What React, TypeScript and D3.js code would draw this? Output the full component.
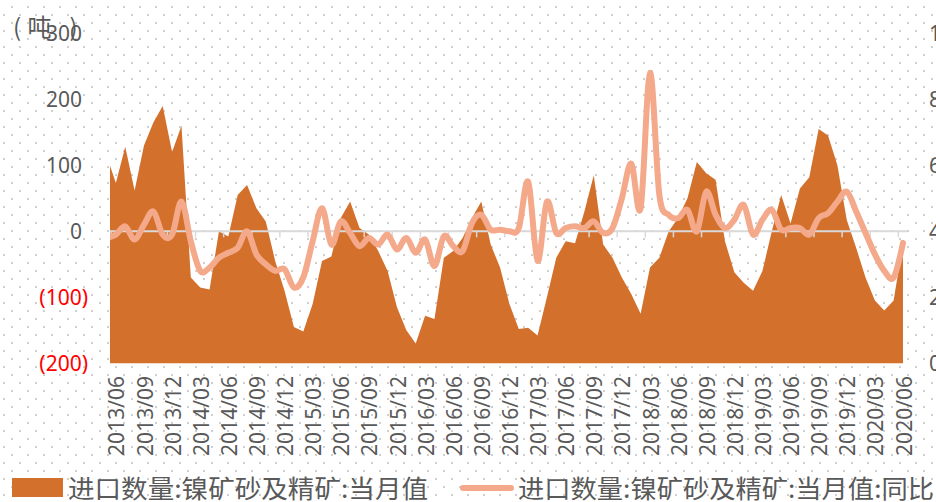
import React from 'react';
import * as d3 from 'd3';

// Categories: monthly, 2013/05 .. 2020/06
const months: string[] = d3
  .timeMonth.range(new Date(2013, 4, 1), new Date(2020, 6, 1))
  .map(d3.timeFormat('%Y/%m'));

// 进口数量:镍矿砂及精矿:当月值 (left axis)
const importVolume: number[] = [
  115, 73, 128, 62, 130, 165, 190, 120, 160,
  -70, -85, -88,
  0, -8, 55, 70, 35, 15, -45, -90,
  -145, -152, -110, -45, -38, 20, 45, 5,
  -5, -30, -60, -115, -150, -170, -128, -133,
  -40, -30, -10, 20, 45, -20, -55, -110,
  -148, -146, -158, -100, -40, -15, -18, 30,
  85, -20, -40, -70, -95, -125, -55, -40,
  0, 20, 50, 105, 88, 78, -15, -62,
  -78, -90, -60, 0, 55, 12, 65, 82,
  155, 145, 100, 17, -25, -70, -105, -120, -105, -18,
];

// 进口数量:镍矿砂及精矿:当月值:同比 (right axis)
const importYoY: number[] = [
  38, 39, 41.5, 37.5, 42, 46, 39, 39, 49,
  37, 28, 29,
  32, 33.5, 35, 40, 33, 30, 28, 28.5,
  23, 26, 37, 47, 36, 43, 39.5, 35.5,
  38, 36, 39, 34.5, 38, 33.5, 37.5, 29.5,
  38.5, 35.5, 34, 42.5, 45, 40.5, 40.5, 40,
  41, 55, 31, 49, 39.5, 41, 41.5, 41,
  43, 39.5, 41, 50, 60.5, 47, 88, 51,
  45, 44, 46.5, 40, 52, 45, 41, 43.5,
  48, 39, 43.5, 46.5, 40.5, 41, 41, 39,
  44, 45.5, 49, 52, 46, 39.5, 33, 28, 26, 36.5,
];

const xTickLabels: string[] = [
  '2013/06', '2013/09', '2013/12', '2014/03', '2014/06', '2014/09', '2014/12',
  '2015/03', '2015/06', '2015/09', '2015/12', '2016/03', '2016/06', '2016/09',
  '2016/12', '2017/03', '2017/06', '2017/09', '2017/12', '2018/03', '2018/06',
  '2018/09', '2018/12', '2019/03', '2019/06', '2019/09', '2019/12', '2020/03', '2020/06',
];
const leftTicks: number[] = [300, 200, 100, 0, -100, -200];
const rightTicks: number[] = [100, 80, 60, 40, 20, 0];

const legendLabels = ['进口数量:镍矿砂及精矿:当月值', '进口数量:镍矿砂及精矿:当月值:同比'];

const AREA_COLOR = '#D3702C';
const LINE_COLOR = '#F3A98A';
const TEXT_COLOR = '#595959';
const NUM_FONT = '"Noto Sans", "DejaVu Sans", sans-serif';
const CJK_FONT = '"Noto Sans CJK SC", "Noto Sans", sans-serif';

export default function App() {
  const W = 936;
  const H = 502;
  const x = d3.scalePoint<string>().domain(months).range([106.5, 903]);
  const step = x.step();
  const yL = d3.scaleLinear().domain([-200, 300]).range([363.3, 33.3]);
  const yR = d3.scaleLinear().domain([0, 100]).range([363.3, 33.3]);

  const areaGen = d3
    .area<number>()
    .x((_, i) => x(months[i]) as number)
    .y0(yL(-200))
    .y1((d) => yL(d));
  const lineGen = d3
    .line<number>()
    .x((_, i) => x(months[i]) as number)
    .y((d) => yR(d))
    .curve(d3.curveCardinal.tension(0));

  const plotLeft = 110;
  const axisRight = (x(months[months.length - 1]) as number) + step / 2;

  return (
    <svg
      width={W}
      height={H}
      viewBox={`0 0 ${W} ${H}`}
      style={{ position: 'absolute', left: 0, top: 0, display: 'block', background: '#fff' }}
    >
      <defs>
        <pattern id="dots" width={16} height={16} patternUnits="userSpaceOnUse">
          <rect x={11} y={6} width={2} height={2} fill="#cfcfcf" />
          <rect x={3} y={14} width={2} height={2} fill="#cfcfcf" />
        </pattern>
        <clipPath id="plotClip">
          <rect x={plotLeft} y={0} width={W - plotLeft} height={H} />
        </clipPath>
      </defs>
      <rect x={0} y={0} width={W} height={H} fill="#fff" />
      <rect x={0} y={0} width={W} height={H} fill="url(#dots)" />

      <g clipPath="url(#plotClip)">
        <path d={areaGen(importVolume) || ''} fill={AREA_COLOR} />
        <line
          x1={plotLeft}
          x2={axisRight}
          y1={yL(0)}
          y2={yL(0)}
          stroke="#d9d9d9"
          strokeWidth={2}
        />
        {xTickLabels.map((m) => {
          const tx = (x(m) as number) - step / 2;
          return (
            <line key={'t' + m} x1={tx} x2={tx} y1={yL(0)} y2={yL(0) + 6} stroke="#d9d9d9" strokeWidth={1.5} />
          );
        })}
        <path
          d={lineGen(importYoY) || ''}
          fill="none"
          stroke={LINE_COLOR}
          strokeWidth={6}
          strokeLinecap="round"
          strokeLinejoin="round"
        />
      </g>

      {/* left axis */}
      {leftTicks.map((v) => (
        <text
          key={'l' + v}
          x={v < 0 ? 88 : 82}
          y={yL(v)}
          dy="0.36em"
          textAnchor="end"
          fontFamily={NUM_FONT}
          fontSize={21}
          fill={v < 0 ? '#FF0000' : TEXT_COLOR}
        >
          {v < 0 ? `(${Math.abs(v)})` : String(v)}
        </text>
      ))}

      {/* right axis */}
      {rightTicks.map((v) => (
        <text
          key={'r' + v}
          x={929}
          y={yR(v)}
          dy="0.36em"
          textAnchor="start"
          fontFamily={NUM_FONT}
          fontSize={21}
          fill={TEXT_COLOR}
        >
          {String(v)}
        </text>
      ))}

      {/* x labels */}
      {xTickLabels.map((m) => {
        const cx = (x(m) as number) + 1;
        return (
          <text
            key={'x' + m}
            transform={`translate(${cx},376) rotate(-90)`}
            textAnchor="end"
            dy="0.36em"
            fontFamily={NUM_FONT}
            fontSize={21}
            fill={TEXT_COLOR}
          >
            {m}
          </text>
        );
      })}

      {/* unit title */}
      <g fontFamily={CJK_FONT} fontSize={24} fill={TEXT_COLOR}>
        <text x={17} y={27} dy="0.36em" textAnchor="middle">(</text>
        <text x={39.5} y={27} dy="0.36em" textAnchor="middle">吨</text>
        <text x={73.5} y={27} dy="0.36em" textAnchor="middle">)</text>
      </g>

      {/* legend */}
      <rect x={12} y={478} width={51} height={19} fill={AREA_COLOR} />
      <text
        x={68}
        y={489}
        dy="0.36em"
        fontFamily={CJK_FONT}
        fontSize={25}
        fill={TEXT_COLOR}
        textLength={360}
        lengthAdjust="spacingAndGlyphs"
      >
        {legendLabels[0]}
      </text>
      <line x1={463} x2={511} y1={488} y2={488} stroke={LINE_COLOR} strokeWidth={6} strokeLinecap="round" />
      <text
        x={518}
        y={489}
        dy="0.36em"
        fontFamily={CJK_FONT}
        fontSize={25}
        fill={TEXT_COLOR}
        textLength={416}
        lengthAdjust="spacingAndGlyphs"
      >
        {legendLabels[1]}
      </text>
    </svg>
  );
}
